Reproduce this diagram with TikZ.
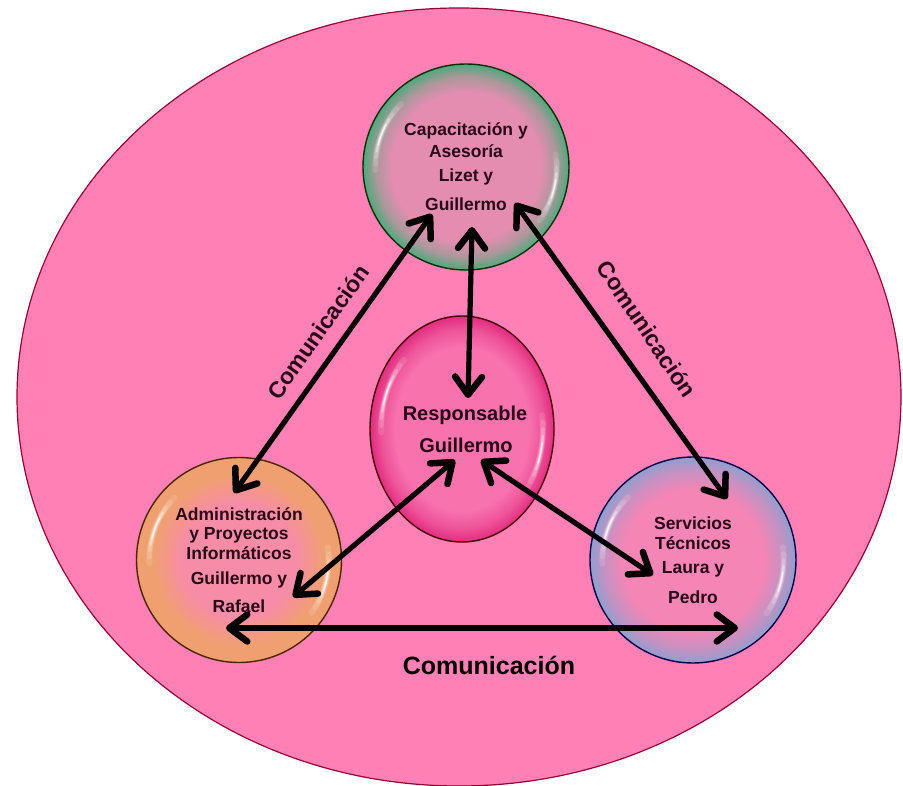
\documentclass[tikz,border=0pt]{standalone}
\usepackage{fontspec}
\setmainfont{Liberation Sans}
\usetikzlibrary{arrows.meta}
\definecolor{discpink}{HTML}{E58DB0}
\definecolor{bubbleGreen}{HTML}{4FA87C}
\definecolor{bgpink}{HTML}{FF80B4}
\definecolor{orangefill}{HTML}{F0A070}
\definecolor{orangecore}{HTML}{F78CA6}
\definecolor{bluerim}{HTML}{8F9FCF}
\definecolor{bluecore}{HTML}{F585B5}
\definecolor{centrecore}{HTML}{F873AE}
\definecolor{centrerim}{HTML}{E22C80}
\definecolor{inkdark}{HTML}{2A0818}
\pgfdeclareradialshading{bubgreen}{\pgfpoint{0bp}{0bp}}{color(0bp)=(discpink); color(18bp)=(discpink); color(22bp)=(discpink!60!bubbleGreen); color(25bp)=(bubbleGreen); color(50bp)=(bubbleGreen)}
\pgfdeclareradialshading{bubblue}{\pgfpoint{0bp}{0bp}}{color(0bp)=(bluecore); color(17bp)=(bluecore); color(22bp)=(bluecore!50!bluerim); color(25bp)=(bluerim); color(50bp)=(bluerim)}
\pgfdeclareradialshading{bubcentre}{\pgfpoint{0bp}{0bp}}{color(0bp)=(centrecore); color(18bp)=(centrecore); color(22bp)=(centrecore!55!centrerim); color(25bp)=(centrerim); color(50bp)=(centrerim)}
\pgfdeclareradialshading{buborange}{\pgfpoint{0bp}{0bp}}{color(0bp)=(orangecore); color(14bp)=(orangecore); color(21bp)=(orangefill); color(25bp)=(orangefill); color(50bp)=(orangefill)}
\tikzset{
  lbl/.style={font=\fontsize{17.5}{18}\selectfont\bfseries,text=inkdark,align=center,inner sep=0pt},
  lblc/.style={font=\fontsize{20}{21}\selectfont\bfseries,text=inkdark,align=center,inner sep=0pt},
  com/.style={font=\fontsize{23}{24}\selectfont\bfseries,text=inkdark,inner sep=0pt},
  link/.style={line width=5.2pt,line cap=round,line join=round,black,
    {Straight Barb[length=18pt,width=27pt,line width=6.5pt,round]}-{Straight Barb[length=18pt,width=27pt,line width=6.5pt,round]}},
}
\newcommand{\glint}[4]{% centre x, y, rx, ry
  \foreach \w/\o/\s in {6/.12/0,5/.14/4,3.6/.2/8,2.4/.35/12,1.4/.7/16}{
    \draw[white,opacity=\o,line width=\w pt,line cap=round]
      ({#1+#3*.88*cos(136+\s)},{#2-#4*.88*sin(136+\s)}) arc[start angle=136+\s,end angle=182-\s,x radius=#3*.88,y radius=-#4*.88];
    \draw[white,opacity=\o,line width=\w pt,line cap=round]
      ({#1+#3*.88*cos(-36+\s)},{#2-#4*.88*sin(-36+\s)}) arc[start angle=-36+\s,end angle=8-\s,x radius=#3*.88,y radius=-#4*.88];
  }
}
\begin{document}
\begin{tikzpicture}[x=1pt,y=-1pt]
\useasboundingbox (0,0) rectangle (903,786);
\fill[white] (0,0) rectangle (903,786);
\path[fill=bgpink,draw=black!20!purple,line width=1.2pt] (459,397) ellipse[x radius=442,y radius=389];
\shade[shading=bubgreen] (466,167) circle[radius=103];
\draw[black!80!green,line width=1.4pt] (466,167) circle[radius=103];
\glint{466}{167}{103}{103}
\shade[shading=buborange] (239,560) circle[radius=102.5];
\draw[black!70!orange,line width=1.4pt] (239,560) circle[radius=102.5];
\glint{239}{560}{102}{102}
\shade[shading=bubblue] (693,560) circle[radius=103];
\draw[black!70!blue,line width=1.4pt] (693,560) circle[radius=103];
\glint{693}{560}{103}{103}
\shade[shading=bubcentre] (462,429) ellipse[x radius=92,y radius=113];
\draw[black!70!red,line width=1.4pt] (462,429) ellipse[x radius=92,y radius=113];
\glint{462}{429}{92}{113}
\node[lbl] (t1) at (466,131) {Capacitación y};
\node[lbl] (t2) at (466,151) {Asesoría};
\node[lbl] (t3) at (466,177) {Lizet y};
\node[lbl] (t4) at (466,204) {Guillermo};
\node[lbl] (l1) at (239,514) {Administración};
\node[lbl] (l2) at (239,535) {y Proyectos};
\node[lbl] (l3) at (239,553) {Informáticos};
\node[lbl] (l4) at (239,580) {Guillermo y};
\node[lbl] (l5) at (239,606) {Rafael};
\node[lbl] (r1) at (693,523) {Servicios};
\node[lbl] (r2) at (693,543) {Técnicos};
\node[lbl] (r3) at (693,569) {Laura y};
\node[lbl] (r4) at (693,597) {Pedro};
\node[lblc] (c1) at (465,415) {Responsable};
\node[lblc] (c2) at (466,445) {Guillermo};
\coordinate (a1) at (432,214);
\coordinate (a2) at (234,493);
\coordinate (b1) at (472,227);
\coordinate (b2) at (468,398);
\coordinate (e1) at (515,203);
\coordinate (e2) at (727,499);
\coordinate (d1) at (455,460);
\coordinate (d2) at (293,597);
\coordinate (f1) at (481,460);
\coordinate (f2) at (653,575);
\coordinate (g1) at (226,628);
\coordinate (g2) at (738,628);
\draw[link] (a1) -- (a2);
\draw[link] (b1) -- (b2);
\draw[link] (e1) -- (e2);
\draw[link] (d1) -- (d2);
\draw[link] (f1) -- (f2);
\draw[link] (g1) -- (g2);
\node[com,text=black,font=\fontsize{25}{26}\selectfont\bfseries] (x1) at (489,665) {Comunicación};
\node[com,rotate=54.7] (x2) at (318,332) {Comunicación};
\node[com,rotate=-56] (x3) at (647,329) {Comunicación};
\end{tikzpicture}
\end{document}
